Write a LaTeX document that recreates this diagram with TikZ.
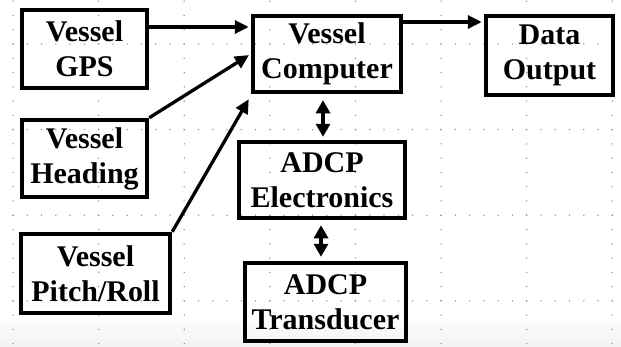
\documentclass[tikz,border=0pt]{standalone}
\usepackage{fontspec}
\setmainfont{Liberation Serif}
\usetikzlibrary{arrows.meta}
\tikzset{
  boxnode/.style={draw=black, line width=4.5pt, rectangle, inner sep=0pt, align=center,
    font=\bfseries\fontsize{30}{35}\selectfont, text=black},
  arr/.style={line width=3.3pt, -{Triangle[length=14pt,width=13pt]}},
  dbl/.style={line width=3.3pt, {Triangle[length=13pt,width=14pt]}-{Triangle[length=13pt,width=14pt]}},
  griddot/.style={fill=black!45},
}
\begin{document}
\begin{tikzpicture}[x=1pt,y=-1pt]
\useasboundingbox (0,0) rectangle (621,346);
\fill[white] (0,0) rectangle (621,346);
\shade[top color=white, bottom color=black!5] (0,315) rectangle (621,346);
% dotted grid
\foreach \gx in {0,...,7}{
  \foreach \k in {0,...,24}{
    \fill[griddot] ({13+85.6*\gx},{1.2+14.27*\k}) circle (0.75pt);
  }
}
\foreach \gy in {0,...,3}{
  \foreach \k in {0,...,42}{
    \fill[griddot] ({13+14.27*\k},{44+85.6*\gy}) circle (0.75pt);
  }
}
% boxes
\node[boxnode, minimum width=125pt, minimum height=78pt] (gps) at (84.5,49) {Vessel\\GPS};
\node[boxnode, minimum width=148pt, minimum height=76pt] (comp) at (327,54) {Vessel\\Computer};
\node[boxnode, minimum width=127pt, minimum height=79pt] (data) at (549.5,55.5) {Data\\Output};
\node[boxnode, minimum width=125pt, minimum height=77pt] (head) at (84.5,158.5) {Vessel\\Heading};
\node[boxnode, minimum width=149pt, minimum height=79pt] (pitch) at (95.5,273.5) {Vessel\\Pitch/Roll};
\node[boxnode, minimum width=166pt, minimum height=76pt] (elec) at (322,180) {ADCP\\Electronics};
\node[boxnode, minimum width=161pt, minimum height=78pt] (trans) at (325.5,302) {ADCP\\Transducer};
% connectors
\coordinate (g1) at ([yshift=22pt]gps.east);
\draw[arr, shorten >=2pt] (g1) -- (g1 -| comp.west);
\draw[arr, shorten >=2pt] (head.north east) -- (comp.west);
\coordinate (p1) at ([shift={(-2pt,-5pt)}]comp.south west);
\draw[arr] (pitch.north east) -- (p1);
\coordinate (c1) at ([yshift=32pt]comp.east);
\draw[arr, shorten >=2pt] (c1) -- (c1 -| data.west);
\coordinate (v1) at ([xshift=-4pt]comp.south);
\draw[dbl, shorten <=6pt, shorten >=3pt] (v1) -- (v1 |- elec.north);
\coordinate (v2) at ([xshift=-1pt]elec.south);
\draw[dbl, shorten <=5pt, shorten >=4pt] (v2) -- (v2 |- trans.north);
\end{tikzpicture}
\end{document}
